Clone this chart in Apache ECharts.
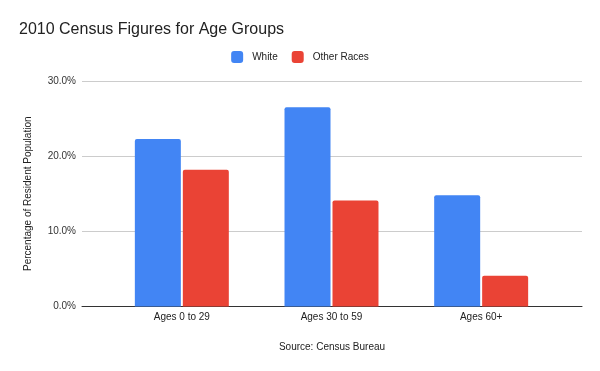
<!DOCTYPE html>
<html>
<head>
<meta charset="utf-8">
<script src="https://cdn.jsdelivr.net/npm/echarts@6/dist/echarts.min.js"></script>
<style>html,body{margin:0;padding:0;background:#fff}#c{width:600px;height:371px}</style>
</head>
<body>
<div id="c"></div>
<script>
const categories = ['Ages 0 to 29', 'Ages 30 to 59', 'Ages 60+'];
const whiteValues = [22.3, 26.5, 14.8];
const otherValues = [18.2, 14.1, 4.1];
const yTicks = [0, 10, 20, 30];

const FONT = 'Arial, "Liberation Sans", sans-serif';
const chart = echarts.init(document.getElementById('c'));
chart.setOption({
  animation: false,
  title: {
    text: '2010 Census Figures for Age Groups',
    left: 14, top: 17,
    textStyle: { fontFamily: FONT, fontSize: 16, fontWeight: 'normal', color: '#222' }
  },
  legend: {
    top: 46, left: 'center',
    itemWidth: 12, itemHeight: 12, itemGap: 14,
    icon: 'roundRect',
    textStyle: { fontFamily: FONT, fontSize: 10, color: '#222', padding: [0, 0, 0, 4] }
  },
  grid: [
    { left: 82, right: 18, top: 81, bottom: 64.5 },
    { left: 107, right: 44, top: 81, bottom: 64.5 }
  ],
  xAxis: [
    {
      gridIndex: 0, type: 'category', data: categories,
      axisLine: { lineStyle: { color: '#333' } },
      axisTick: { show: false }, axisLabel: { show: false },
      name: 'Source: Census Bureau', nameLocation: 'middle', nameGap: 36,
      nameTextStyle: { fontFamily: FONT, fontSize: 10, color: '#222' }
    },
    {
      gridIndex: 1, type: 'category', data: categories,
      axisLine: { show: false }, axisTick: { show: false },
      axisLabel: { margin: 6, fontFamily: FONT, fontSize: 10, color: '#222' }
    }
  ],
  yAxis: [
    {
      gridIndex: 0, type: 'value', min: yTicks[0], max: yTicks[yTicks.length - 1], interval: 10,
      axisLine: { show: false }, axisTick: { show: false },
      splitLine: { lineStyle: { color: '#ccc' } },
      axisLabel: { margin: 6, fontFamily: FONT, fontSize: 10, color: '#333', formatter: v => v.toFixed(1) + '%' },
      name: 'Percentage of Resident Population', nameLocation: 'middle', nameGap: 49,
      nameTextStyle: { fontFamily: FONT, fontSize: 10, color: '#222' }
    },
    {
      gridIndex: 1, type: 'value', min: yTicks[0], max: yTicks[yTicks.length - 1], interval: 10,
      show: false
    }
  ],
  series: [
    { name: 'White', type: 'bar', xAxisIndex: 1, yAxisIndex: 1, data: whiteValues,
      barWidth: 46, barGap: '4.3%', itemStyle: { color: '#4285F4', borderRadius: [2, 2, 0, 0] } },
    { name: 'Other Races', type: 'bar', xAxisIndex: 1, yAxisIndex: 1, data: otherValues,
      barWidth: 46, barGap: '4.3%', itemStyle: { color: '#EA4335', borderRadius: [2, 2, 0, 0] } }
  ]
});
</script>
</body>
</html>
